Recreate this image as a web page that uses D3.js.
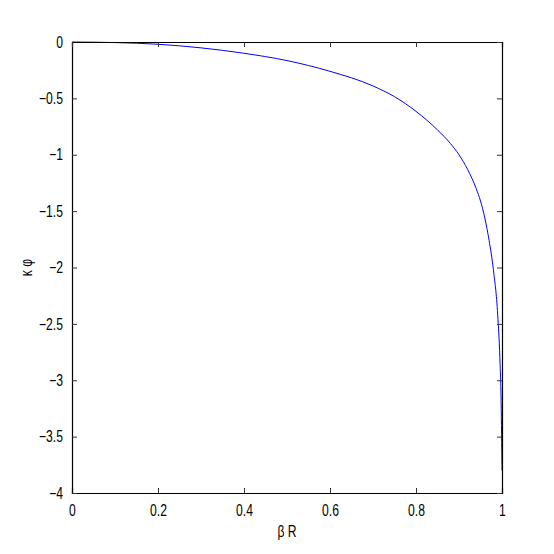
<!DOCTYPE html>
<html>
<head>
<meta charset="utf-8">
<script src="https://cdn.jsdelivr.net/npm/d3@7"></script>
<style>
  body { margin: 0; background: #fff; }
  text { font-family: "Liberation Sans", Arial, sans-serif; font-size: 16px; fill: #000; }
</style>
</head>
<body>
<div id="chart"></div>
<script>
// values
var betaR = [0, 0.1, 0.2, 0.3, 0.4, 0.5, 0.6, 0.7, 0.75, 0.8, 0.85, 0.88, 0.9,
             0.92, 0.94, 0.95, 0.96, 0.97, 0.98, 0.99, 0.995, 0.998, 1.0];
var kappaPhi = [0, -0.005, -0.02, -0.052, -0.1, -0.165, -0.26, -0.39, -0.485, -0.615, -0.78, -0.9, -1.0,
                -1.13, -1.3, -1.41, -1.56, -1.76, -2.02, -2.42, -2.8, -3.2, -3.8];
var xTicks = [0, 0.2, 0.4, 0.6, 0.8, 1];
var yTicks = [0, -0.5, -1, -1.5, -2, -2.5, -3, -3.5, -4];

var width = 554, height = 554;
var margin = { top: 42, right: 52, bottom: 61, left: 72 };
var w = width - margin.left - margin.right,
    h = height - margin.top - margin.bottom;

var svg = d3.select("#chart").append("svg")
  .attr("width", width)
  .attr("height", height);

var g = svg.append("g")
  .attr("transform", "translate(" + margin.left + "," + margin.top + ")");

var x = d3.scaleLinear().domain([0, 1]).range([0, w]);
var y = d3.scaleLinear().domain([-4, 0]).range([h, 0]);

var fmt = function(d) { return d < 0 ? "\u2212" + Math.abs(d) : String(d); };

// curve
var data = betaR.map(function(d, i) { return [d, kappaPhi[i]]; });
var line = d3.line()
  .x(function(d) { return x(d[0]); })
  .y(function(d) { return y(d[1]); })
  .curve(d3.curveMonotoneX);

g.append("path")
  .datum(data)
  .attr("d", line)
  .attr("fill", "none")
  .attr("stroke", "#0000ff")
  .attr("stroke-width", 1);

// axes, ticks inward like matlab
var xAxis = d3.axisBottom(x).tickValues(xTicks).tickSize(-5).tickPadding(12).tickFormat(fmt);
var yAxis = d3.axisLeft(y).tickValues(yTicks).tickSize(-5).tickPadding(9).tickFormat(fmt);
var xTop = d3.axisTop(x).tickValues(xTicks).tickSize(-5).tickFormat("");
var yRight = d3.axisRight(y).tickValues(yTicks).tickSize(-5).tickFormat("");

var gx = g.append("g").attr("transform", "translate(0," + h + ")").call(xAxis);
var gy = g.append("g").call(yAxis);
var gxt = g.append("g").call(xTop);
var gyr = g.append("g").attr("transform", "translate(" + w + ",0)").call(yRight);

[gx, gy, gxt, gyr].forEach(function(a) {
  a.select(".domain").attr("stroke", "#000").attr("stroke-width", 1.2);
  a.selectAll(".tick line").attr("stroke", "#333");
  a.selectAll("text").attr("font-size", null).attr("font-family", null);
});

g.append("text")
  .attr("x", w / 2)
  .attr("y", h + 44)
  .attr("text-anchor", "middle")
  .text("\u03b2 R");

g.append("text")
  .attr("transform", "translate(" + (-40) + "," + (h / 2) + ") rotate(-90)")
  .attr("text-anchor", "middle")
  .text("\u03ba \u03c6");

// squeeze glyphs a bit, the original font is narrower
svg.selectAll("text").each(function() {
  var len = this.getComputedTextLength();
  if (len > 0) {
    d3.select(this).attr("textLength", len * 0.76).attr("lengthAdjust", "spacingAndGlyphs");
  }
});
</script>
</body>
</html>
